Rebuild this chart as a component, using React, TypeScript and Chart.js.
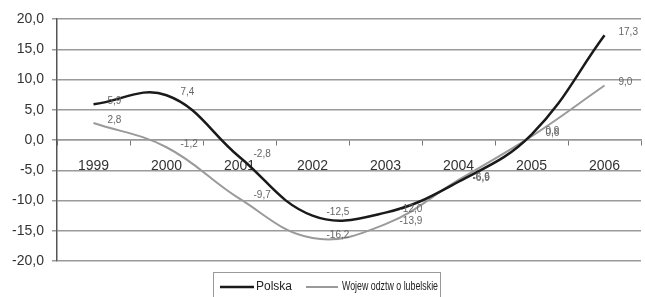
import React, { useEffect, useRef } from "react";
import { Chart, registerables } from "chart.js";

Chart.register(...registerables);

const years = ["1999", "2000", "2001", "2002", "2003", "2004", "2005", "2006"];
const polska = [5.9, 7.4, -2.8, -12.5, -12.0, -6.9, 0.9, 17.3];
const lubelskie = [2.8, -1.2, -9.7, -16.2, -13.9, -6.6, 0.6, 9.0];
const seriesNames = ["Polska", "Wojew odztw o lubelskie"];
const yTicks = [-20, -15, -10, -5, 0, 5, 10, 15, 20];

const fmt = (v: number) => v.toFixed(1).replace(".", ",");

const labelPlugin = {
  id: "valueLabels",
  afterDatasetsDraw(chart: any) {
    const ctx = chart.ctx;
    ctx.save();
    ctx.font = "10px 'Liberation Sans', Arial, sans-serif";
    ctx.fillStyle = "#666";
    ctx.textAlign = "left";
    ctx.textBaseline = "middle";
    chart.data.datasets.forEach((ds: any, i: number) => {
      const meta = chart.getDatasetMeta(i);
      meta.data.forEach((pt: any, j: number) => {
        ctx.fillText(fmt(ds.data[j]), pt.x + 14, pt.y - 3);
      });
    });
    ctx.restore();
  },
};

const legendPlugin = {
  id: "customLegend",
  afterDraw(chart: any) {
    const ctx = chart.ctx;
    ctx.save();
    const x0 = 213, y0 = 272, w = 227, h = 30;
    ctx.strokeStyle = "#999";
    ctx.lineWidth = 1;
    ctx.strokeRect(x0 + 0.5, y0 + 0.5, w, h);
    ctx.font = "12px 'Liberation Sans', Arial, sans-serif";
    ctx.textBaseline = "middle";
    ctx.fillStyle = "#222";
    const yy = 287;
    const items = [
      { color: "#1a1a1a", lw: 2.5, x: 220, len: 34, tx: 256, tw: 36, text: seriesNames[0] },
      { color: "#9a9a9a", lw: 2, x: 306, len: 32, tx: 342, tw: 96, text: seriesNames[1] },
    ];
    items.forEach((it) => {
      ctx.strokeStyle = it.color;
      ctx.lineWidth = it.lw;
      ctx.beginPath();
      ctx.moveTo(it.x, yy);
      ctx.lineTo(it.x + it.len, yy);
      ctx.stroke();
      const mw = ctx.measureText(it.text).width;
      const sx = it.tw / mw;
      ctx.save();
      ctx.translate(it.tx, yy);
      ctx.scale(sx, 1);
      ctx.fillText(it.text, 0, 0);
      ctx.restore();
    });
    ctx.restore();
  },
};

export default function App() {
  const ref = useRef<HTMLCanvasElement>(null);
  useEffect(() => {
    document.body.style.margin = "0";
    const chart = new Chart(ref.current!, {
      type: "line",
      data: {
        labels: years,
        datasets: [
          {
            label: seriesNames[0],
            data: polska,
            borderColor: "#1a1a1a",
            borderWidth: 2.5,
            pointRadius: 0,
            tension: 0.4,
            fill: false,
          },
          {
            label: seriesNames[1],
            data: lubelskie,
            borderColor: "#9a9a9a",
            borderWidth: 2,
            pointRadius: 0,
            tension: 0.4,
            fill: false,
          },
        ],
      },
      options: {
        animation: false,
        responsive: false,
        layout: { padding: { top: 19, right: 4, bottom: 36, left: 0 } },
        plugins: { legend: { display: false }, tooltip: { enabled: false } },
        scales: {
          x: {
            type: "category",
            position: { y: 0 } as any,
            offset: true,
            grid: {
              offset: true,
              drawOnChartArea: false,
              drawTicks: true,
              tickLength: 5,
              color: "#777",
            },
            border: { display: true, color: "#999", width: 1.5 },
            ticks: {
              color: "#333",
              font: { family: "'Liberation Sans', Arial, sans-serif", size: 14 },
              padding: 13,
              maxRotation: 0,
            },
          },
          y: {
            min: -20,
            max: 20,
            afterBuildTicks: (scale: any) => {
              scale.ticks = yTicks.map((v) => ({ value: v }));
            },
            afterFit: (scale: any) => {
              scale.width = 57;
            },
            grid: {
              color: "#9a9a9a",
              lineWidth: 1.5,
              tickLength: 5,
            },
            border: { display: true, color: "#555", width: 1.5 },
            ticks: {
              color: "#333",
              font: { family: "'Liberation Sans', Arial, sans-serif", size: 14 },
              padding: 8,
              callback: (v: any) => fmt(Number(v)),
            },
          },
        },
      },
      plugins: [labelPlugin, legendPlugin],
    });
    return () => chart.destroy();
  }, []);
  return <canvas ref={ref} width={645} height={297} style={{ display: "block" }} />;
}
